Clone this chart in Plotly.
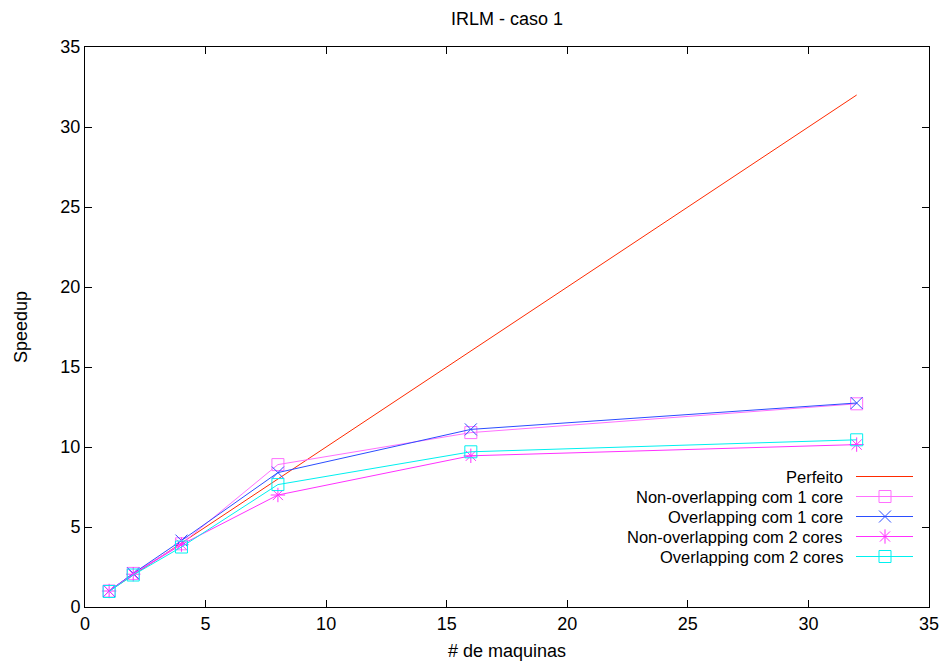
import plotly.graph_objects as go

maquinas = [1, 2, 4, 8, 16, 32]
perfeito = [1, 2, 4, 8, 16, 32]
nonov_1core = [1.0, 2.1, 3.95, 8.9, 10.9, 12.7]
ov_1core = [1.0, 2.1, 4.15, 8.4, 11.1, 12.75]
nonov_2cores = [1.0, 2.05, 3.9, 7.0, 9.45, 10.15]
ov_2cores = [0.97, 2.0, 3.75, 7.65, 9.7, 10.45]

names = ["Perfeito", "Non-overlapping com 1 core", "Overlapping com 1 core",
         "Non-overlapping com 2 cores", "Overlapping com 2 cores"]
series = [perfeito, nonov_1core, ov_1core, nonov_2cores, ov_2cores]
colors = ["#ff2a00", "#ff70ff", "#2b4dff", "#ff30ff", "#00f0f0"]
symbols = [None, "square-open", "x-thin-open", "asterisk-open", "square-open"]

FONT = "Liberation Sans, Arial, Helvetica, sans-serif"
fig = go.Figure()

for name, ys, c, s in zip(names, series, colors, symbols):
    fig.add_trace(go.Scatter(
        x=maquinas, y=ys, name=name, showlegend=False,
        mode="lines" if s is None else "lines+markers",
        line=dict(color=c, width=1),
        marker=dict(symbol=s or "circle", size=12, color=c, line=dict(color=c, width=1)),
    ))

# custom legend (gnuplot style: text right, sample on the right)
L, R, T, B = 85, 929, 47, 607
W, H = R - L, B - T
row_px = [476.5, 496.5, 516.5, 536.5, 556.5]
for name, c, s, py in zip(names, colors, symbols, row_px):
    fy = (B - py) / H
    fig.add_trace(go.Scatter(
        x=[(856 - L) / W, (913 - L) / W], y=[fy, fy], xaxis="x2", yaxis="y2",
        mode="lines", line=dict(color=c, width=1), showlegend=False, hoverinfo="skip"))
    if s:
        fig.add_trace(go.Scatter(
            x=[(885 - L) / W], y=[fy], xaxis="x2", yaxis="y2", mode="markers",
            marker=dict(symbol=s, size=12, color=c, line=dict(color=c, width=1)),
            showlegend=False, hoverinfo="skip"))
    fig.add_annotation(x=(844 - L) / W, y=fy, xref="paper", yref="paper",
                       text=name, showarrow=False, xanchor="right", yanchor="middle",
                       borderpad=0,
                       font=dict(size=16.5, color="black", family=FONT))

axis_common = dict(
    showgrid=False, zeroline=False, showline=True, linecolor="black", linewidth=1,
    mirror="allticks", ticks="inside", ticklen=7, tickcolor="black", tickwidth=1,
    automargin=False,
    tickfont=dict(size=18, color="black", family=FONT),
)

fig.update_layout(
    width=944, height=666,
    margin=dict(l=L, r=944 - R, t=T, b=666 - B, autoexpand=False),
    plot_bgcolor="white", paper_bgcolor="white",
    font=dict(family=FONT, size=18, color="black"),
    title=dict(text="IRLM - caso 1", x=0.5 * (L + R) / 944, xanchor="center",
               y=1 - 19 / 666, yanchor="middle", font=dict(size=18, color="black", family=FONT)),
    xaxis=dict(range=[0, 35], dtick=5, title=dict(text="# de maquinas", standoff=11,
               font=dict(size=18, color="black", family=FONT)), **axis_common),
    yaxis=dict(range=[0, 35], dtick=5, title=dict(text="Speedup", standoff=28,
               font=dict(size=18, color="black", family=FONT)), **axis_common),
    xaxis2=dict(overlaying="x", range=[0, 1], visible=False),
    yaxis2=dict(overlaying="y", range=[0, 1], visible=False),
)

fig.write_html("out.html")
